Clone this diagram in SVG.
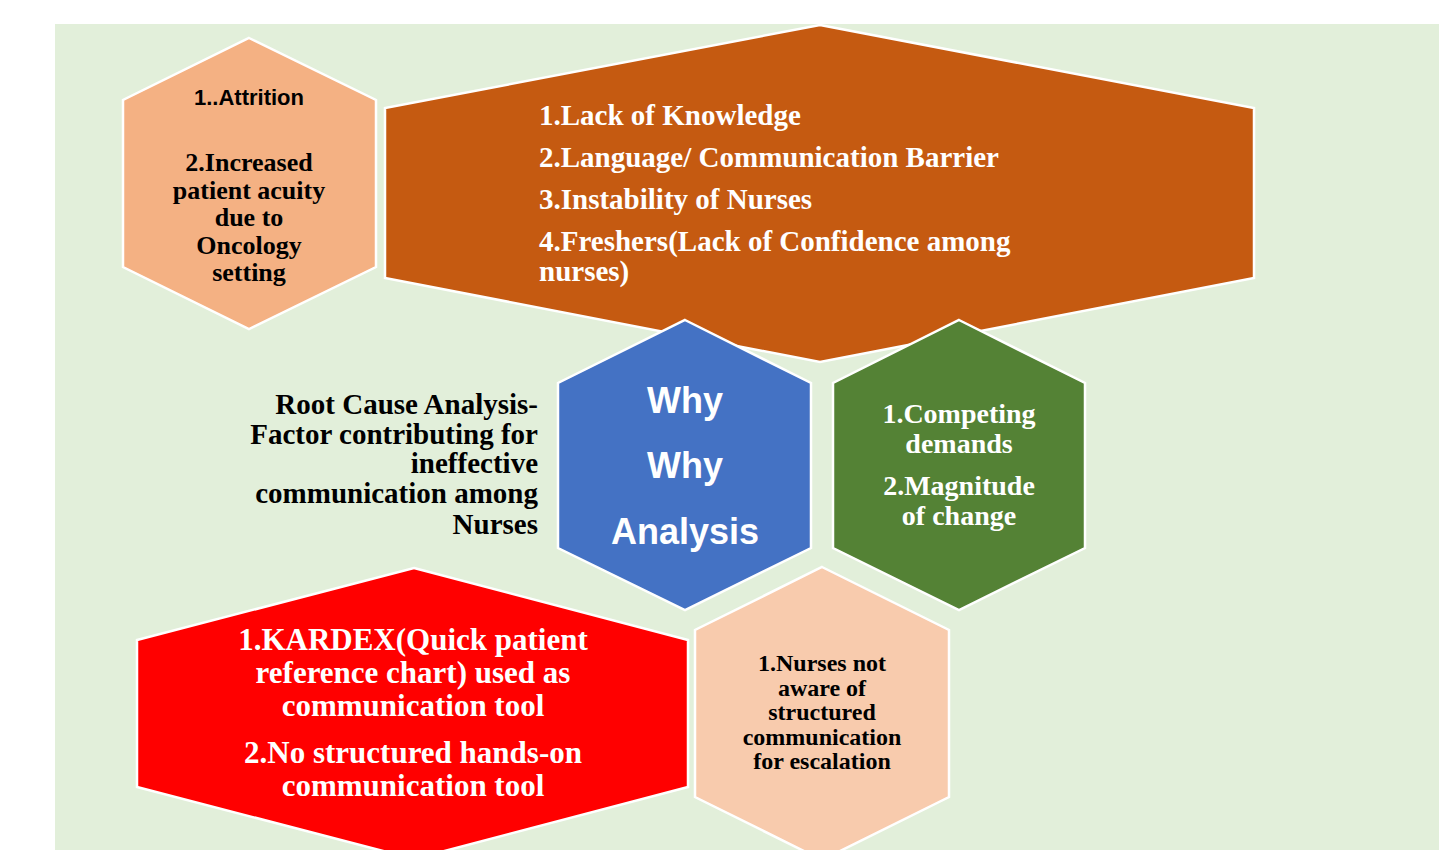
<svg xmlns="http://www.w3.org/2000/svg" width="1439" height="850" viewBox="0 0 1439 850">
<style>
.hex{stroke:#FFFFFF;stroke-width:2.5;stroke-linejoin:miter}
.serif{font-family:"Liberation Serif","Times New Roman",serif;font-weight:bold}
.sans{font-family:"Liberation Sans",Arial,sans-serif;font-weight:bold}
.w{fill:#FFFFFF}
.k{fill:#000000}
</style>
<rect x="0" y="0" width="1439" height="850" fill="#FFFFFF"/>
<rect x="55" y="24" width="1384" height="826" fill="#E2EFDA"/>
<g id="connectors"></g>
<g id="node-factors">
<polygon class="hex" fill="#F4B183" points="249,38 376,100 376,267 249,329 123,267 123,100"/>
<text class="sans k" x="249" y="105" font-size="22" text-anchor="middle">1..Attrition</text>
<g class="serif k" font-size="26" text-anchor="middle">
<text x="249" y="171">2.Increased</text>
<text x="249" y="198.5">patient acuity</text>
<text x="249" y="226">due to</text>
<text x="249" y="253.5">Oncology</text>
<text x="249" y="281">setting</text>
</g>
</g>
<g id="node-people">
<polygon class="hex" fill="#C55A11" points="820,25 1254,108 1254,278 820,362 385,278 385,108"/>
<g class="serif w" font-size="29">
<text x="539" y="125">1.Lack of Knowledge</text>
<text x="539" y="167">2.Language/ Communication Barrier</text>
<text x="539" y="209">3.Instability of Nurses</text>
<text x="539" y="251">4.Freshers(Lack of Confidence among</text>
<text x="539" y="281">nurses)</text>
</g>
</g>
<g id="node-title">
<g class="serif k" font-size="29" text-anchor="end">
<text x="538" y="414">Root Cause Analysis-</text>
<text x="538" y="444">Factor contributing for</text>
<text x="538" y="473">ineffective</text>
<text x="538" y="503">communication among</text>
<text x="538" y="534">Nurses</text>
</g>
</g>
<g id="node-why">
<polygon class="hex" fill="#4472C4" points="685,320 811,383 811,548 685,610 558,548 558,383"/>
<g class="sans w" font-size="36" text-anchor="middle">
<text x="685" y="413">Why</text>
<text x="685" y="478">Why</text>
<text x="685" y="544">Analysis</text>
</g>
</g>
<g id="node-management">
<polygon class="hex" fill="#548235" points="959,320 1085,383 1085,548 959,610 833,548 833,383"/>
<g class="serif w" font-size="28" text-anchor="middle">
<text x="959" y="423">1.Competing</text>
<text x="959" y="453">demands</text>
<text x="959" y="495">2.Magnitude</text>
<text x="959" y="525">of change</text>
</g>
</g>
<g id="node-tools">
<polygon class="hex" fill="#FF0000" points="414,568 688,640 688,787 414,859 137,787 137,640"/>
<g class="serif w" font-size="31" text-anchor="middle">
<text x="413" y="650">1.KARDEX(Quick patient</text>
<text x="413" y="683">reference chart) used as</text>
<text x="413" y="716">communication tool</text>
<text x="413" y="763">2.No structured hands-on</text>
<text x="413" y="796">communication tool</text>
</g>
</g>
<g id="node-process">
<polygon class="hex" fill="#F8CBAD" points="822,567 949,630 949,797 822,860 695,797 695,630"/>
<g class="serif k" font-size="24" text-anchor="middle">
<text x="822" y="671">1.Nurses not</text>
<text x="822" y="695.5">aware of</text>
<text x="822" y="720">structured</text>
<text x="822" y="744.5">communication</text>
<text x="822" y="769">for escalation</text>
</g>
</g>
</svg>
